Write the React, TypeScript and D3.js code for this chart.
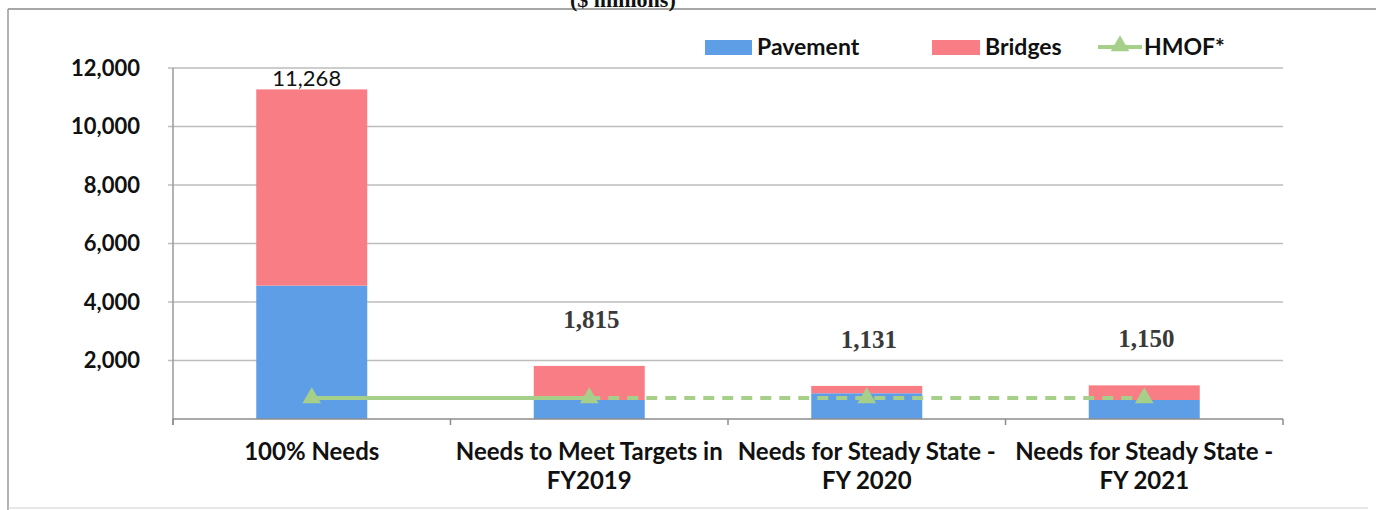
import React from "react";
import * as d3 from "d3";

const categories: string[][] = [
  ["100% Needs"],
  ["Needs to Meet Targets in", "FY2019"],
  ["Needs for Steady State -", "FY 2020"],
  ["Needs for Steady State -", "FY 2021"],
];
const pavement = [4560, 650, 880, 650];
const bridges = [6708, 1165, 251, 500];
const totals = [11268, 1815, 1131, 1150];
const hmof = [720, 720, 720, 720];
const yTicks = [2000, 4000, 6000, 8000, 10000, 12000];
const legendItems = ["Pavement", "Bridges", "HMOF*"];
const titleText = "($ millions)";

const W = 1376;
const H = 510;
const BLUE = "#5E9EE6";
const RED = "#F97D85";
const GREEN = "#A6D08A";
const SANS = "Lato, 'Open Sans', sans-serif";
const SERIF = "'Liberation Serif', 'DejaVu Serif', serif";

export default function App() {
  const x = d3
    .scaleBand<number>()
    .domain(categories.map((_, i) => i))
    .range([173, 1283])
    .paddingInner(0.6)
    .paddingOuter(0.3);
  const step = x.step();
  const y = d3.scaleLinear().domain([0, 12000]).range([419, 68]);
  const fmt = d3.format(",");
  const cx = (i: number) => (x(i) as number) + x.bandwidth() / 2;

  const stack = d3
    .stack<number>()
    .keys(["pavement", "bridges"])
    .value((i, key) => (key === "pavement" ? pavement[i] : bridges[i]))(
    categories.map((_, i) => i)
  );
  const colors = [BLUE, RED];

  const pts: [number, number][] = hmof.map((v, i) => [cx(i), y(v)]);
  const line = d3.line();
  const tri = d3.symbol().type(d3.symbolTriangle).size(150);

  const xLeft = 173;
  const xRight = 1283;

  return (
    <svg
      width={W}
      height={H}
      style={{ position: "absolute", left: 0, top: 0, background: "#fff" }}
      xmlns="http://www.w3.org/2000/svg"
    >
      <rect x={0} y={0} width={W} height={H} fill="#fff" />
      {/* frame */}
      <line x1={8} x2={W} y1={9} y2={9} stroke="#8a8a8a" strokeWidth={1.5} />
      <line x1={8} x2={8} y1={9} y2={H} stroke="#9a9a9a" strokeWidth={1.5} />
      <line x1={8} x2={W - 8} y1={508} y2={508} stroke="#d0d0d0" strokeWidth={1} />
      {/* cut-off title */}
      <text
        x={570}
        y={7}
        fontFamily={SERIF}
        fontWeight="bold"
        fontSize={22}
        fill="#111"
      >
        {titleText}
      </text>

      {/* gridlines */}
      {yTicks.map((t) => (
        <g key={t}>
          <line
            x1={xLeft - 5}
            x2={xRight}
            y1={y(t)}
            y2={y(t)}
            stroke="#bdbdbd"
            strokeWidth={1.5}
          />
          <text
            x={140}
            y={y(t)}
            dy="0.36em"
            textAnchor="end"
            fontFamily={SANS}
            fontWeight="bold"
            fontSize={22}
            fill="#111"
          >
            {fmt(t)}
          </text>
        </g>
      ))}
      {/* y axis */}
      <line x1={xLeft} x2={xLeft} y1={y(12000)} y2={y(0) + 6} stroke="#9a9a9a" strokeWidth={1.5} />

      {/* bars */}
      {stack.map((layer, li) =>
        layer.map((d, i) => (
          <rect
            key={`${li}-${i}`}
            x={x(i)}
            width={x.bandwidth()}
            y={y(d[1])}
            height={y(d[0]) - y(d[1])}
            fill={colors[li]}
          />
        ))
      )}

      {/* x axis */}
      <line x1={xLeft} x2={xRight} y1={y(0)} y2={y(0)} stroke="#8c8c8c" strokeWidth={1.5} />
      {d3.range(categories.length + 1).map((k) => (
        <line
          key={k}
          x1={xLeft + k * step}
          x2={xLeft + k * step}
          y1={y(0)}
          y2={y(0) + 6}
          stroke="#8c8c8c"
          strokeWidth={1.5}
        />
      ))}

      {/* HMOF line */}
      <path d={line(pts.slice(0, 2)) || ""} stroke={GREEN} strokeWidth={4} fill="none" />
      <path
        d={line(pts.slice(1)) || ""}
        stroke={GREEN}
        strokeWidth={4}
        fill="none"
        strokeDasharray="11 8"
      />
      {pts.map((p, i) => (
        <path key={i} d={tri() || ""} transform={`translate(${p[0]},${p[1]})`} fill={GREEN} />
      ))}

      {/* value labels */}
      {totals.map((t, i) =>
        i === 0 ? (
          <text
            key={i}
            x={cx(i) - 5}
            y={y(t) - 3}
            textAnchor="middle"
            fontFamily={SANS}
            fontSize={22}
            fill="#111"
          >
            {fmt(t)}
          </text>
        ) : (
          <text
            key={i}
            x={cx(i) + 2}
            y={y(t) - 47}
            dy="0.35em"
            textAnchor="middle"
            fontFamily={SERIF}
            fontWeight="bold"
            fontSize={25}
            fill="#3a3a3a"
          >
            {fmt(t)}
          </text>
        )
      )}

      {/* category labels */}
      {categories.map((lines, i) => (
        <text
          key={i}
          textAnchor="middle"
          fontFamily={SANS}
          fontWeight="bold"
          fontSize={24}
          fill="#111"
        >
          {lines.map((l, j) => (
            <tspan key={j} x={cx(i)} y={460 + j * 29}>
              {l}
            </tspan>
          ))}
        </text>
      ))}

      {/* legend */}
      <g fontFamily={SANS} fontWeight="bold" fontSize={23} fill="#111">
        <rect x={705} y={40} width={47} height={15} fill={BLUE} />
        <text x={757} y={47} dy="0.36em">
          {legendItems[0]}
        </text>
        <rect x={932} y={40} width={48} height={15} fill={RED} />
        <text x={985} y={47} dy="0.36em">
          {legendItems[1]}
        </text>
        <line x1={1098} x2={1142} y1={47} y2={47} stroke={GREEN} strokeWidth={4} />
        <path d={tri() || ""} transform="translate(1120,46)" fill={GREEN} />
        <text x={1144} y={47} dy="0.36em">
          {legendItems[2]}
        </text>
      </g>
    </svg>
  );
}
